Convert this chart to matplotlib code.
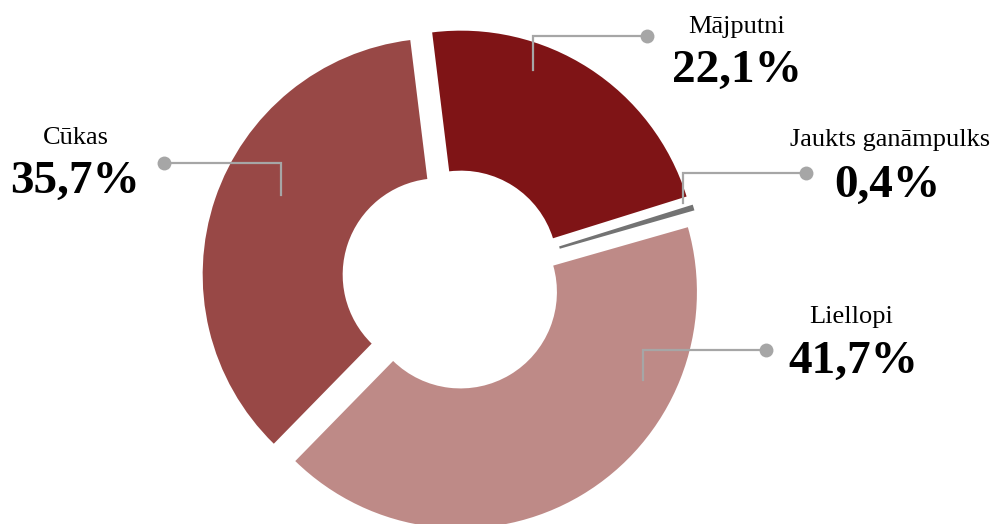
import matplotlib.pyplot as plt

categories = ['Mājputni', 'Jaukts ganāmpulks', 'Liellopi', 'Cūkas']
shares = [22.1, 0.4, 41.7, 35.7]
colors = ['#7F1416', '#737373', '#BE8A87', '#984846']

# label placement in pixel coords (x, y from top)
name_pos = [(737, 33), (890, 146), (851, 323), (76, 144)]
pct_pos = [(737, 82), (887, 197), (853, 373), (75, 193)]
leaders = [
    [(533, 70), (533, 36), (647, 36)],
    [(683, 203), (683, 173), (806, 173)],
    [(643, 380), (643, 350), (766, 350)],
    [(281, 195), (281, 163), (164, 163)],
]

W, H = 1001, 524


def main():
    fig = plt.figure(figsize=(W / 100, H / 100), dpi=100)
    ax = fig.add_axes([0, 0, 1, 1])
    ax.set_xlim(0, W)
    ax.set_ylim(0, H)
    ax.set_aspect('equal')
    ax.axis('off')

    R = 236.4
    ax.pie(shares, colors=colors, startangle=97, counterclock=False,
           center=(453, H - 279.4), radius=R, explode=[14.7] * len(shares),
           wedgeprops=dict(width=140, linewidth=0), frame=True)
    ax.set_xlim(0, W)
    ax.set_ylim(0, H)
    ax.axis('off')

    for pts in leaders:
        xs = [p[0] for p in pts]
        ys = [H - p[1] for p in pts]
        ax.plot(xs, ys, color='#A6A6A6', lw=1.6, solid_joinstyle='miter', zorder=3)
        ax.plot(xs[-1], ys[-1], 'o', color='#A6A6A6', ms=10, mew=0, zorder=4)

    for name, val, (nx, ny), (px, py) in zip(categories, shares, name_pos, pct_pos):
        ax.text(nx, H - ny, name, ha='center', va='baseline',
                fontsize=19, family='Liberation Serif')
        ax.text(px, H - py, f"{val:.1f}".replace('.', ',') + '%', ha='center',
                va='baseline', fontsize=34, fontweight='bold', family='Liberation Serif')

    fig.savefig('out.png', dpi=100)


if __name__ == '__main__':
    main()
